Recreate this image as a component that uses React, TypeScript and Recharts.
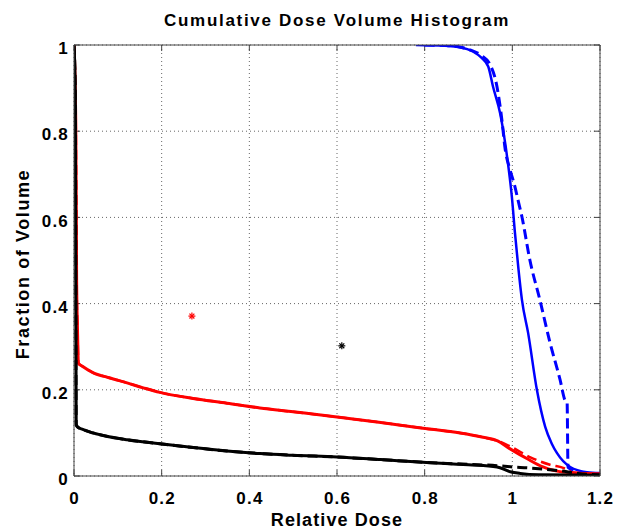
import React from "react"
import {
  ComposedChart,
  Line,
  Scatter,
  XAxis,
  YAxis,
  CartesianGrid,
  ReferenceLine,
} from "recharts"

// dose (relative) vs fraction of volume
const blueSolid = [
  [0.78, 1.0], [0.85, 0.998], [0.88, 0.995], [0.91, 0.985], [0.93, 0.97],
  [0.945, 0.95], [0.956, 0.903], [0.972, 0.842], [0.979, 0.803], [0.99, 0.726],
  [0.999, 0.647], [1.006, 0.564], [1.014, 0.48], [1.022, 0.408], [1.036, 0.332],
  [1.056, 0.2], [1.075, 0.114], [1.09, 0.075], [1.102, 0.053], [1.132, 0.021],
  [1.17, 0.009], [1.2, 0.007],
]
const blueDashed = [
  [0.8, 1.0], [0.86, 0.998], [0.9, 0.99], [0.93, 0.975], [0.949, 0.955],
  [0.965, 0.903], [0.977, 0.819], [0.983, 0.763], [0.995, 0.71], [1.006, 0.671],
  [1.013, 0.64], [1.022, 0.601], [1.04, 0.501], [1.063, 0.408], [1.086, 0.309],
  [1.109, 0.223], [1.12, 0.176], [1.125, 0.17], [1.127, 0.02], [1.15, 0.01],
  [1.2, 0.005],
]
const redSolid = [
  [0, 1.0], [0.004, 0.82], [0.006, 0.45], [0.008, 0.34], [0.01, 0.262],
  [0.02, 0.254], [0.043, 0.24], [0.08, 0.228], [0.121, 0.216], [0.16, 0.204],
  [0.196, 0.194], [0.272, 0.18], [0.349, 0.169], [0.424, 0.158], [0.5, 0.149],
  [0.6, 0.137], [0.7, 0.124], [0.796, 0.111], [0.881, 0.1], [0.933, 0.09],
  [0.965, 0.082], [0.995, 0.063], [1.034, 0.04], [1.07, 0.021], [1.116, 0.009],
  [1.2, 0.005],
]
const redDashed = [
  [0, 1.0], [0.004, 0.82], [0.006, 0.45], [0.008, 0.34], [0.01, 0.262],
  [0.02, 0.254], [0.043, 0.24], [0.08, 0.228], [0.121, 0.216], [0.16, 0.204],
  [0.196, 0.194], [0.272, 0.18], [0.349, 0.169], [0.424, 0.158], [0.5, 0.149],
  [0.6, 0.137], [0.7, 0.124], [0.796, 0.111], [0.881, 0.1], [0.933, 0.09],
  [0.965, 0.082], [1.0, 0.066], [1.04, 0.044], [1.086, 0.026], [1.116, 0.019],
  [1.14, 0.008], [1.2, 0.005],
]
const blackSolid = [
  [0, 1.0], [0.003, 0.88], [0.005, 0.12], [0.008, 0.114], [0.02, 0.108],
  [0.043, 0.1], [0.08, 0.091], [0.121, 0.084], [0.196, 0.075], [0.272, 0.066],
  [0.349, 0.058], [0.424, 0.052], [0.5, 0.048], [0.6, 0.044], [0.7, 0.038],
  [0.796, 0.032], [0.9, 0.026], [0.965, 0.021], [0.995, 0.01], [1.018, 0.006],
  [1.06, 0.003], [1.2, 0.002],
]
const blackDashed = [
  [0, 1.0], [0.003, 0.88], [0.005, 0.12], [0.008, 0.114], [0.02, 0.108],
  [0.043, 0.1], [0.08, 0.091], [0.121, 0.084], [0.196, 0.075], [0.272, 0.066],
  [0.349, 0.058], [0.424, 0.052], [0.5, 0.048], [0.6, 0.044], [0.7, 0.038],
  [0.796, 0.032], [0.9, 0.027], [0.965, 0.024], [1.0, 0.021], [1.034, 0.019],
  [1.109, 0.012], [1.15, 0.006], [1.2, 0.003],
]
const redMarker = [[0.269, 0.371]]
const blackMarker = [[0.611, 0.302]]

const xTicks = [0, 0.2, 0.4, 0.6, 0.8, 1, 1.2]
const yTicks = [0, 0.2, 0.4, 0.6, 0.8, 1]

const toPts = (arr: number[][]) => arr.map(([d, v]) => ({ d, v }))
const fmt = (v: number) => (v === 0 || v === 1 ? String(v) : v.toFixed(1))

const FONT = '"Liberation Sans", Arial, Helvetica, sans-serif'
const AXIS = "#444"

const XTick = (props: any) => {
  const { x, payload } = props
  return (
    <text x={x + 0.6} y={492} dy="0.72em" textAnchor="middle" fontSize={17} fontWeight={700} fontFamily={FONT} fill="#000" letterSpacing={1.2}>
      {fmt(payload.value)}
    </text>
  )
}
const YTick = (props: any) => {
  const { y, payload } = props
  return (
    <text x={69} y={y + 3} dy="0.36em" textAnchor="end" fontSize={17} fontWeight={700} fontFamily={FONT} fill="#000" letterSpacing={1.2}>
      {fmt(payload.value)}
    </text>
  )
}

const Asterisk = (props: any) => {
  const { cx, cy, fill } = props
  const r = 3.5
  return (
    <g stroke={fill} strokeWidth={1.2}>
      <line x1={cx - r} y1={cy} x2={cx + r} y2={cy} />
      <line x1={cx} y1={cy - r} x2={cx} y2={cy + r} />
      <line x1={cx - r * 0.7} y1={cy - r * 0.7} x2={cx + r * 0.7} y2={cy + r * 0.7} />
      <line x1={cx - r * 0.7} y1={cy + r * 0.7} x2={cx + r * 0.7} y2={cy - r * 0.7} />
    </g>
  )
}

// inward tick length in data units
const tx = 0.014
const ty = 0.014

export default function App() {
  return (
    <div style={{ position: "absolute", left: 0, top: 0, width: 618, height: 531, background: "#fff", fontFamily: FONT }}>
      <div style={{ position: "absolute", left: 74, width: 526, top: 10, textAlign: "center", fontSize: 17, fontWeight: 700, lineHeight: "22px", letterSpacing: 1.7 }}>
        Cumulative Dose Volume Histogram
      </div>
      <div style={{ position: "absolute", left: 74, width: 526, top: 508, textAlign: "center", fontSize: 18, fontWeight: 700, lineHeight: "24px", letterSpacing: 1.1 }}>
        Relative Dose
      </div>
      <div
        style={{
          position: "absolute", left: 23, top: 264, width: 260, marginLeft: -130, marginTop: -12,
          textAlign: "center", fontSize: 18, fontWeight: 700, lineHeight: "24px", letterSpacing: 1.6, transform: "rotate(-90deg)",
        }}
      >
        Fraction of Volume
      </div>
      <ComposedChart width={618} height={531} margin={{ top: 45, right: 18, bottom: 0, left: 0 }} style={{ position: "absolute", left: 0, top: 0 }}>
        <CartesianGrid stroke="#666" strokeDasharray="1 3" />
        <XAxis type="number" dataKey="d" domain={[0, 1.2]} ticks={xTicks} height={55} interval={0}
          tickLine={false} tick={<XTick />} stroke={AXIS} allowDataOverflow />
        <YAxis type="number" dataKey="v" domain={[0, 1]} ticks={yTicks} width={74} interval={0}
          tickLine={false} tick={<YTick />} stroke={AXIS} allowDataOverflow />
        {xTicks.map((t) => (
          <ReferenceLine key={"xb" + t} segment={[{ x: t, y: 0 }, { x: t, y: ty }]} stroke={AXIS} />
        ))}
        {xTicks.map((t) => (
          <ReferenceLine key={"xt" + t} segment={[{ x: t, y: 1 - ty }, { x: t, y: 1 }]} stroke={AXIS} />
        ))}
        {yTicks.map((t) => (
          <ReferenceLine key={"yl" + t} segment={[{ x: 0, y: t }, { x: tx, y: t }]} stroke={AXIS} />
        ))}
        {yTicks.map((t) => (
          <ReferenceLine key={"yr" + t} segment={[{ x: 1.2 - tx, y: t }, { x: 1.2, y: t }]} stroke={AXIS} />
        ))}
        <Line data={toPts(blueDashed)} dataKey="v" type="monotone" stroke="#0000ff" strokeWidth={3} strokeDasharray="10 5" dot={false} isAnimationActive={false} />
        <Line data={toPts(blueSolid)} dataKey="v" type="monotone" stroke="#0000ff" strokeWidth={2.5} dot={false} isAnimationActive={false} />
        <Line data={toPts(redDashed)} dataKey="v" type="monotone" stroke="#ff0000" strokeWidth={2.5} strokeDasharray="10 5" dot={false} isAnimationActive={false} />
        <Line data={toPts(redSolid)} dataKey="v" type="monotone" stroke="#ff0000" strokeWidth={3} dot={false} isAnimationActive={false} />
        <Line data={toPts(blackDashed)} dataKey="v" type="monotone" stroke="#000" strokeWidth={3} strokeDasharray="10 5" dot={false} isAnimationActive={false} />
        <Line data={toPts(blackSolid)} dataKey="v" type="monotone" stroke="#000" strokeWidth={3} dot={false} isAnimationActive={false} />
        <Scatter data={toPts(redMarker)} dataKey="v" fill="#ff0000" shape={<Asterisk />} isAnimationActive={false} />
        <Scatter data={toPts(blackMarker)} dataKey="v" fill="#000" shape={<Asterisk />} isAnimationActive={false} />
        <ReferenceLine y={1} stroke={AXIS} />
        <ReferenceLine x={1.2} stroke={AXIS} />
      </ComposedChart>
    </div>
  )
}
